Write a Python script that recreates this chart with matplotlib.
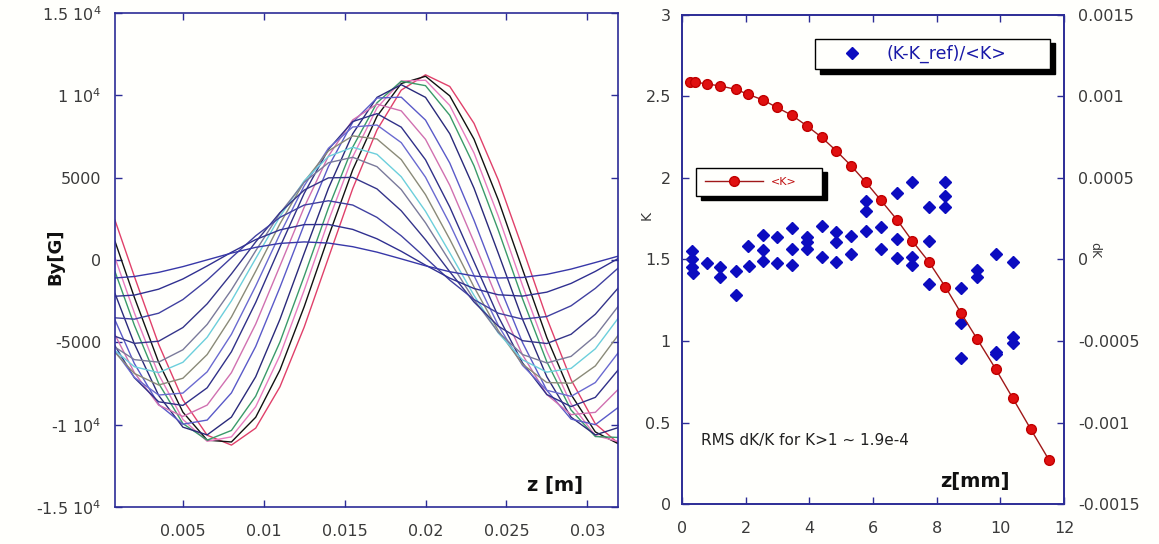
import matplotlib
matplotlib.use("Agg")
import matplotlib.pyplot as plt

# ---------------- left panel: By(z) for a family of field curves ----------------
z_m = [0.0008, 0.002, 0.0035, 0.005, 0.0065, 0.008, 0.0095, 0.011, 0.0125, 0.014, 0.0155,
       0.017, 0.0185, 0.02, 0.0215, 0.023, 0.0245, 0.026, 0.0275, 0.029, 0.0305, 0.032]

by_01 = [2420, -1000, -5120, -8490, -10640, -11240, -10210, -7700, -4070, 140, 4340, 7900, 10320, 11250, 10540, 8300, 4860, 720, -3530, -7270, -9950, -11190]
by_02 = [1140, -2270, -6210, -9240, -10940, -11050, -9550, -6680, -2830, 1430, 5480, 8730, 10720, 11160, 9970, 7340, 3650, -570, -4710, -8170, -10440, -11200]
by_03 = [140, -3210, -6950, -9680, -11010, -10740, -8910, -5790, -1830, 2390, 6270, 9240, 10870, 10920, 9390, 6500, 2670, -1550, -5550, -8740, -10660, -11040]
by_04 = [-700, -3960, -7490, -9930, -10940, -10350, -8270, -4980, -980, 3170, 6860, 9550, 10860, 10590, 8790, 5720, 1810, -2360, -6180, -9110, -10720, -10780]
by_05 = [-2030, -5090, -8220, -10150, -10620, -9540, -7090, -3600, 410, 4360, 7670, 9880, 10650, 9880, 7670, 4360, 410, -3600, -7090, -9540, -10620, -10150]
by_06 = [-3640, -6290, -8770, -9970, -9720, -8070, -5250, -1660, 2160, 5680, 8370, 9840, 9890, 8500, 5890, 2410, -1410, -5020, -7910, -9660, -10000, -8890]
by_07 = [-4540, -6840, -8810, -9500, -8810, -6840, -3890, -360, 3210, 6320, 8510, 9470, 9060, 7330, 4540, 1090, -2520, -5760, -8170, -9390, -9250, -7770]
by_08 = [-5210, -7150, -8610, -8830, -7760, -5570, -2580, 790, 4050, 6720, 8410, 8890, 8070, 6090, 3220, -110, -3430, -6250, -8170, -8900, -8340, -6570]
by_09 = [-5520, -7130, -8200, -8080, -6790, -4510, -1580, 1580, 4510, 6790, 8080, 8200, 7130, 5030, 2200, -950, -3970, -6400, -7910, -8280, -7440, -5520]
by_10 = [-5610, -6890, -7590, -7180, -5740, -3460, -680, 2200, 4760, 6630, 7540, 7350, 6100, 3970, 1260, -1640, -4290, -6330, -7440, -7480, -6430, -4450]
by_11 = [-5500, -6480, -6840, -6210, -4690, -2480, 90, 2640, 4810, 6290, 6850, 6420, 5060, 2960, 440, -2150, -4430, -6060, -6810, -6580, -5390, -3420]
by_12 = [-5290, -6050, -6200, -5450, -3910, -1810, 560, 2840, 4720, 5910, 6240, 5670, 4280, 2260, -80, -2410, -4390, -5740, -6250, -5850, -4610, -2700]
by_13 = [-4630, -5060, -4930, -4100, -2660, -840, 1100, 2880, 4250, 4990, 5020, 4320, 2990, 1230, -710, -2550, -4020, -4900, -5070, -4510, -3290, -1600]
by_14 = [-3510, -3590, -3230, -2400, -1220, 140, 1470, 2590, 3340, 3600, 3340, 2590, 1470, 140, -1220, -2400, -3230, -3590, -3430, -2780, -1720, -410]
by_15 = [-2200, -2130, -1770, -1150, -360, 470, 1240, 1830, 2150, 2160, 1860, 1290, 530, -310, -1100, -1730, -2110, -2190, -1950, -1420, -690, 140]
by_16 = [-1090, -1000, -750, -400, 10, 420, 770, 1010, 1100, 1030, 810, 480, 70, -350, -710, -970, -1090, -1060, -870, -550, -150, 260]
by_curves = [by_01, by_02, by_03, by_04, by_05, by_06, by_07, by_08,
             by_09, by_10, by_11, by_12, by_13, by_14, by_15, by_16]

curve_colors = ['#e0406a', '#111111', '#e87cc0', '#3a9a6a', '#2a2a7a', '#5a5ac8', '#d070b0', '#303088',
                '#6a6ad0', '#8a8a78', '#6ccfdc', '#7a7a9a', '#35358a', '#4040a0', '#303090', '#3838a8']

left_xticks = [0.005, 0.01, 0.015, 0.02, 0.025, 0.03]
left_xticklabels = ["0.005", "0.01", "0.015", "0.02", "0.025", "0.03"]
left_yticks = [-15000, -10000, -5000, 0, 5000, 10000, 15000]
left_yticklabels = [r"-1.5 10$^4$", r"-1 10$^4$", "-5000", "0", "5000", r"1 10$^4$", r"1.5 10$^4$"]

# ---------------- right panel: <K> and (K-K_ref)/<K> vs z ----------------
z_mm = [0.25, 0.41, 0.79, 1.21, 1.69, 2.08, 2.54, 2.97, 3.45, 3.93, 4.39, 4.85, 5.31, 5.78, 6.25,
        6.77, 7.23, 7.75, 8.27, 8.77, 9.28, 9.85, 10.39, 10.96, 11.53]
K_mean = [2.591, 2.588, 2.577, 2.564, 2.544, 2.513, 2.479, 2.434, 2.385, 2.319, 2.249, 2.166, 2.076,
          1.973, 1.863, 1.740, 1.615, 1.487, 1.333, 1.170, 1.010, 0.830, 0.650, 0.458, 0.270]
dk_z = [0.30, 0.30, 0.33, 0.34, 0.79, 1.21, 1.21, 1.69, 1.69, 2.08, 2.10, 2.54, 2.54, 2.54, 2.97, 2.97,
        3.45, 3.45, 3.45, 3.93, 3.93, 3.93, 4.39, 4.39, 4.85, 4.85, 4.85, 5.31, 5.31, 5.78, 5.78, 5.78,
        6.25, 6.25, 6.77, 6.77, 6.77, 7.23, 7.23, 7.23, 7.75, 7.75, 7.75, 8.27, 8.27, 8.27, 8.77, 8.77,
        8.77, 9.28, 9.28, 9.88, 9.86, 9.88, 10.39, 10.39, 10.39]
dk = [0.000054, 0.000005, -0.000045, -0.00008, -0.00002, -0.000044, -0.000105, -0.00007, -0.00022,
      0.000085, -0.00004, 0.000148, 0.000058, -0.00001, 0.00014, -0.000023, 0.000195, 0.000063,
      -0.000034, 0.00014, 0.000106, 0.000063, 0.000207, 0.000017, 0.000167, 0.000106, -0.000013,
      0.000146, 0.000032, 0.000359, 0.000298, 0.000175, 0.000197, 0.000066, 0.00041, 0.000128,
      0.000011, 0.000477, 0.000017, -0.000034, 0.000324, 0.000115, -0.00015, 0.000477, 0.00039,
      0.00032, -0.000177, -0.000388, -0.000606, -0.000064, -0.000109, 0.000034, -0.000565, -0.00058,
      -0.000013, -0.000473, -0.000514]

k_ticks = [0, 0.5, 1, 1.5, 2, 2.5, 3]
k_ticklabels = ["0", "0.5", "1", "1.5", "2", "2.5", "3"]
dk_ticks = [-0.0015, -0.001, -0.0005, 0, 0.0005, 0.001, 0.0015]
dk_ticklabels = ["-0.0015", "-0.001", "-0.0005", "0", "0.0005", "0.001", "0.0015"]
zmm_ticks = [0, 2, 4, 6, 8, 10, 12]

plt.rcParams['font.family'] = ['DejaVu Sans']
spine_c = '#2c2c96'
lab_c = '#3a3a3a'
bg = '#fffffc'

fig = plt.figure(figsize=(11.59, 5.44), dpi=100)
fig.patch.set_facecolor(bg)

# left axes
ax = fig.add_axes([0.0992, 0.068, 0.434, 0.908])
ax.set_facecolor(bg)
for row, c in zip(by_curves, curve_colors):
    ax.plot(z_m, row, color=c, lw=1.0)
ax.set_xlim(0.0008, 0.0319)
ax.set_ylim(-15000, 15000)
ax.set_xticks(left_xticks)
ax.set_xticklabels(left_xticklabels)
ax.set_yticks(left_yticks)
ax.set_yticklabels(left_yticklabels)
ax.tick_params(direction='in', top=True, right=True, length=5, width=1, color=spine_c,
               labelcolor=lab_c, labelsize=11.5)
ax.tick_params(axis='x', pad=12)
ax.tick_params(axis='y', pad=10)
for s in ax.spines.values():
    s.set_color(spine_c)
    s.set_linewidth(1.2)
fig.text(55 / 1159, 1 - 257 / 544, "By[G]", rotation=90, ha='center', va='center',
         fontsize=13, fontweight='bold', color='#111111')
fig.text(555 / 1159, 1 - 485 / 544, "z [m]", ha='center', va='center',
         fontsize=14, fontweight='bold', color='#111111')

# right axes
axk = fig.add_axes([0.5884, 0.0735, 0.3296, 0.899])
axd = axk.twinx()
axk.set_zorder(axd.get_zorder() + 1)
axk.patch.set_visible(False)
axd.set_facecolor(bg)

lk, = axk.plot(z_mm, K_mean, color='#a01818', lw=1.0, marker='o', ms=7,
               mfc='#e01010', mec='#c00000', label='<K>')
ld, = axd.plot(dk_z, dk, ls='none', marker='D', ms=6.5, mfc='#0c0cc0', mec='#0c0cc0',
               label='(K-K_ref)/<K>')
axk.set_xlim(0, 12)
axk.set_ylim(0, 3)
axd.set_ylim(-0.0015, 0.0015)
axk.set_xticks(zmm_ticks)
axk.set_yticks(k_ticks)
axk.set_yticklabels(k_ticklabels)
axd.set_yticks(dk_ticks)
axd.set_yticklabels(dk_ticklabels)
axk.tick_params(direction='in', top=True, right=False, length=5, width=1, color=spine_c,
                labelcolor=lab_c, labelsize=11.5)
axk.tick_params(axis='x', pad=12)
axk.tick_params(axis='y', pad=8)
axd.tick_params(direction='in', length=5, width=1, color=spine_c, labelcolor=lab_c,
                labelsize=11.5, pad=10)
for a in (axk, axd):
    for s in a.spines.values():
        s.set_color(spine_c)
        s.set_linewidth(1.2)

fig.text(647 / 1159, 1 - 215 / 544, "K", rotation=90, ha='center', va='center',
         fontsize=10, color=lab_c)
fig.text(1095 / 1159, 1 - 250 / 544, "dK", rotation=270, ha='center', va='center',
         fontsize=9, color=lab_c)
fig.text(701 / 1159, 1 - 440 / 544, "RMS dK/K for K>1 ~ 1.9e-4", ha='left', va='center',
         fontsize=11, color='#222222')
fig.text(975 / 1159, 1 - 482 / 544, "z[mm]", ha='center', va='center',
         fontsize=14, fontweight='bold', color='#111111')

shadow = {'color': 'black', 'alpha': 1.0, 'ox': 3.5, 'oy': -3}
leg1 = axk.legend(handles=[ld], loc='upper left', bbox_to_anchor=(0.348, 0.892, 0.615, 0.059),
                  mode='expand', frameon=True, fancybox=False, edgecolor='black', framealpha=1,
                  shadow=shadow, fontsize=12.5, handlelength=3.6, borderpad=0.35,
                  handletextpad=0.2, borderaxespad=0, labelcolor='#1a1aa8')
leg1.get_frame().set_linewidth(1.0)
leg1.get_frame().set_facecolor(bg)
axk.add_artist(leg1)
leg2 = axk.legend(handles=[lk], loc='upper left', bbox_to_anchor=(0.037, 0.628, 0.329, 0.059),
                  mode='expand', frameon=True, fancybox=False, edgecolor='black', framealpha=1,
                  shadow=shadow, fontsize=8, handlelength=5.2, borderpad=0.8,
                  handletextpad=0.7, borderaxespad=0, labelcolor='#c01010')
leg2.get_frame().set_linewidth(1.0)
leg2.get_frame().set_facecolor(bg)

plt.savefig("out.png", facecolor=fig.get_facecolor())
